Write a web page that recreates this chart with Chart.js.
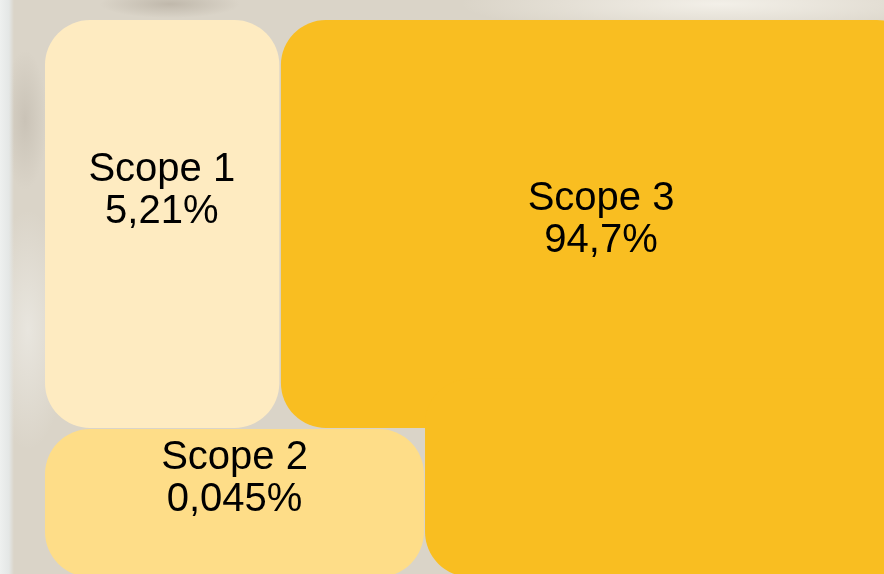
<!DOCTYPE html>
<html lang="de">
<head>
<meta charset="utf-8">
<title>Scope 1–3</title>
<script src="https://cdn.jsdelivr.net/npm/chart.js@4.4.1/dist/chart.umd.min.js"></script>
<style>
  html, body { margin: 0; padding: 0; }
  body {
    width: 884px;
    height: 574px;
    overflow: hidden;
    /* rough stand-in for the stone photo behind the tiles */
    background:
      linear-gradient(90deg, #eef0ef 0, #e4e7e6 9px, rgba(228,231,230,0) 14px),
      radial-gradient(ellipse 70px 14px at 170px 4px, rgba(160,150,136,.45), rgba(160,150,136,0)),
      radial-gradient(ellipse 260px 30px at 720px 4px, rgba(244,241,234,.95), rgba(244,241,234,0)),
      radial-gradient(ellipse 40px 120px at 28px 330px, rgba(236,234,228,.8), rgba(236,234,228,0)),
      radial-gradient(ellipse 22px 70px at 25px 120px, rgba(186,178,166,.5), rgba(186,178,166,0)),
      #dad4c8;
  }
  canvas { display: block; }
</style>
</head>
<body>
<canvas id="chart" width="884" height="574"></canvas>
<script>
// values
const scopes = ['Scope 1', 'Scope 2', 'Scope 3'];
const shares = [5.21, 0.045, 94.7];

// look
const tileColors = ['#feebc1', '#fedd88', '#f9be21'];
const cornerRadius = 45;

// layout, in percent of the plot area (x left->right, y top->bottom)
// Scope 3 is an L shape, so it takes two tiles
const tiles = [
  { scope: 0, x: [5.09, 31.6], y: [3.48, 74.56] },
  { scope: 1, x: [5.09, 47.96], y: [74.76, 100.5] },
  { scope: 2, x: [31.78, 104.3], y: [3.48, 74.56] },
  { scope: 2, x: [48.08, 104.3], y: [66, 100.5] }
];
const labelAnchors = [
  { x: 18.3, y: 32.6 },
  { x: 26.53, y: 82.75 },
  { x: 67.99, y: 37.6 }
];

const fmtShare = v => String(v).replace('.', ',') + '%';

const tilesPlugin = {
  id: 'tiles',
  beforeDatasetsDraw(chart) {
    const { ctx, scales: { x, y } } = chart;
    tiles.forEach(t => {
      const x0 = x.getPixelForValue(t.x[0]);
      const x1 = x.getPixelForValue(t.x[1]);
      const y0 = y.getPixelForValue(t.y[0]);
      const y1 = y.getPixelForValue(t.y[1]);
      ctx.save();
      ctx.fillStyle = tileColors[t.scope];
      ctx.beginPath();
      ctx.roundRect(Math.min(x0, x1), Math.min(y0, y1), Math.abs(x1 - x0), Math.abs(y1 - y0), cornerRadius);
      ctx.fill();
      ctx.restore();
    });
  },
  afterDatasetsDraw(chart) {
    const { ctx } = chart;
    ctx.save();
    ctx.fillStyle = '#000';
    ctx.font = '40px "Liberation Sans", Arial, Helvetica, sans-serif';
    ctx.textAlign = 'center';
    ctx.textBaseline = 'alphabetic';
    scopes.forEach((name, i) => {
      const pt = chart.getDatasetMeta(i).data[0];
      ctx.fillText(name, pt.x, pt.y - 6);
      ctx.fillText(fmtShare(shares[i]), pt.x, pt.y + 36);
    });
    ctx.restore();
  }
};

new Chart(document.getElementById('chart'), {
  type: 'scatter',
  data: {
    datasets: scopes.map((name, i) => ({
      label: name,
      data: [labelAnchors[i]],
      pointRadius: 0,
      pointHoverRadius: 0
    }))
  },
  options: {
    responsive: false,
    devicePixelRatio: 1,
    animation: false,
    events: [],
    layout: { padding: 0 },
    plugins: {
      legend: { display: false },
      tooltip: { enabled: false }
    },
    scales: {
      x: { type: 'linear', min: 0, max: 100, display: false },
      y: { type: 'linear', min: 0, max: 100, reverse: true, display: false }
    }
  },
  plugins: [tilesPlugin]
});
</script>
</body>
</html>
